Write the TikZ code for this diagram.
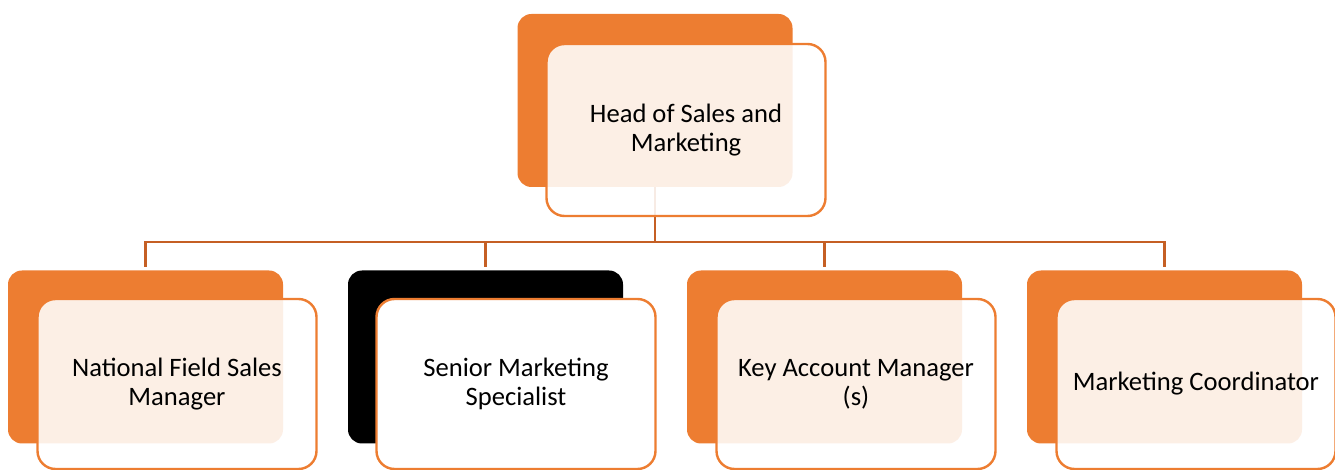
\documentclass[tikz,border=0pt]{standalone}
\usepackage{fontspec}
\setmainfont{Carlito}
\definecolor{orgfill}{RGB}{237,125,49}
\definecolor{orgline}{RGB}{197,95,36}
\begin{document}
\begin{tikzpicture}[
    x=0.5pt,y=-0.5pt,
    back/.style={rounded corners=7pt,minimum width=137.5pt,minimum height=86.5pt,fill=orgfill},
    front/.style={rounded corners=9pt,minimum width=139.5pt,minimum height=86pt,
        draw=orgfill,line width=1.2pt,fill=white,fill opacity=0.88,text opacity=1,
        align=center,font=\fontsize{13.3pt}{14.6pt}\selectfont},
    link/.style={draw=orgline,line width=1.25pt}
]
\useasboundingbox (0,0) rectangle (1335,470);

% shadow boxes
\node[back] (head) at (655,100.5) {};
\node[back] (nat) at (145.5,357) {};
\node[back,fill=black] (sen) at (485.5,357) {};
\node[back] (key) at (824.5,357) {};
\node[back] (coord) at (1164.5,357) {};

% connectors
\coordinate (bus) at (655,242);
\draw[link] (head.south) -- (bus);
\draw[link,shorten >=1.5pt] (bus) -| (nat.north);
\draw[link,shorten >=1.5pt] (bus) -| (sen.north);
\draw[link,shorten >=1.5pt] (bus) -| (key.north);
\draw[link,shorten >=1.5pt] (bus) -| (coord.north);

% labelled boxes
\node[front] (headf) at (686,130) {Head of Sales and\\Marketing};
\node[front,minimum height=85pt] (natf) at (177,384) {National Field Sales\\Manager};
\node[front,minimum height=85pt,fill opacity=1] (senf) at (516,384) {Senior Marketing\\Specialist};
\node[front,minimum height=85pt] (keyf) at (856,384) {Key Account Manager\\(s)};
\node[front,minimum height=85pt] (coordf) at (1196,384) {Marketing Coordinator};

\end{tikzpicture}
\end{document}
